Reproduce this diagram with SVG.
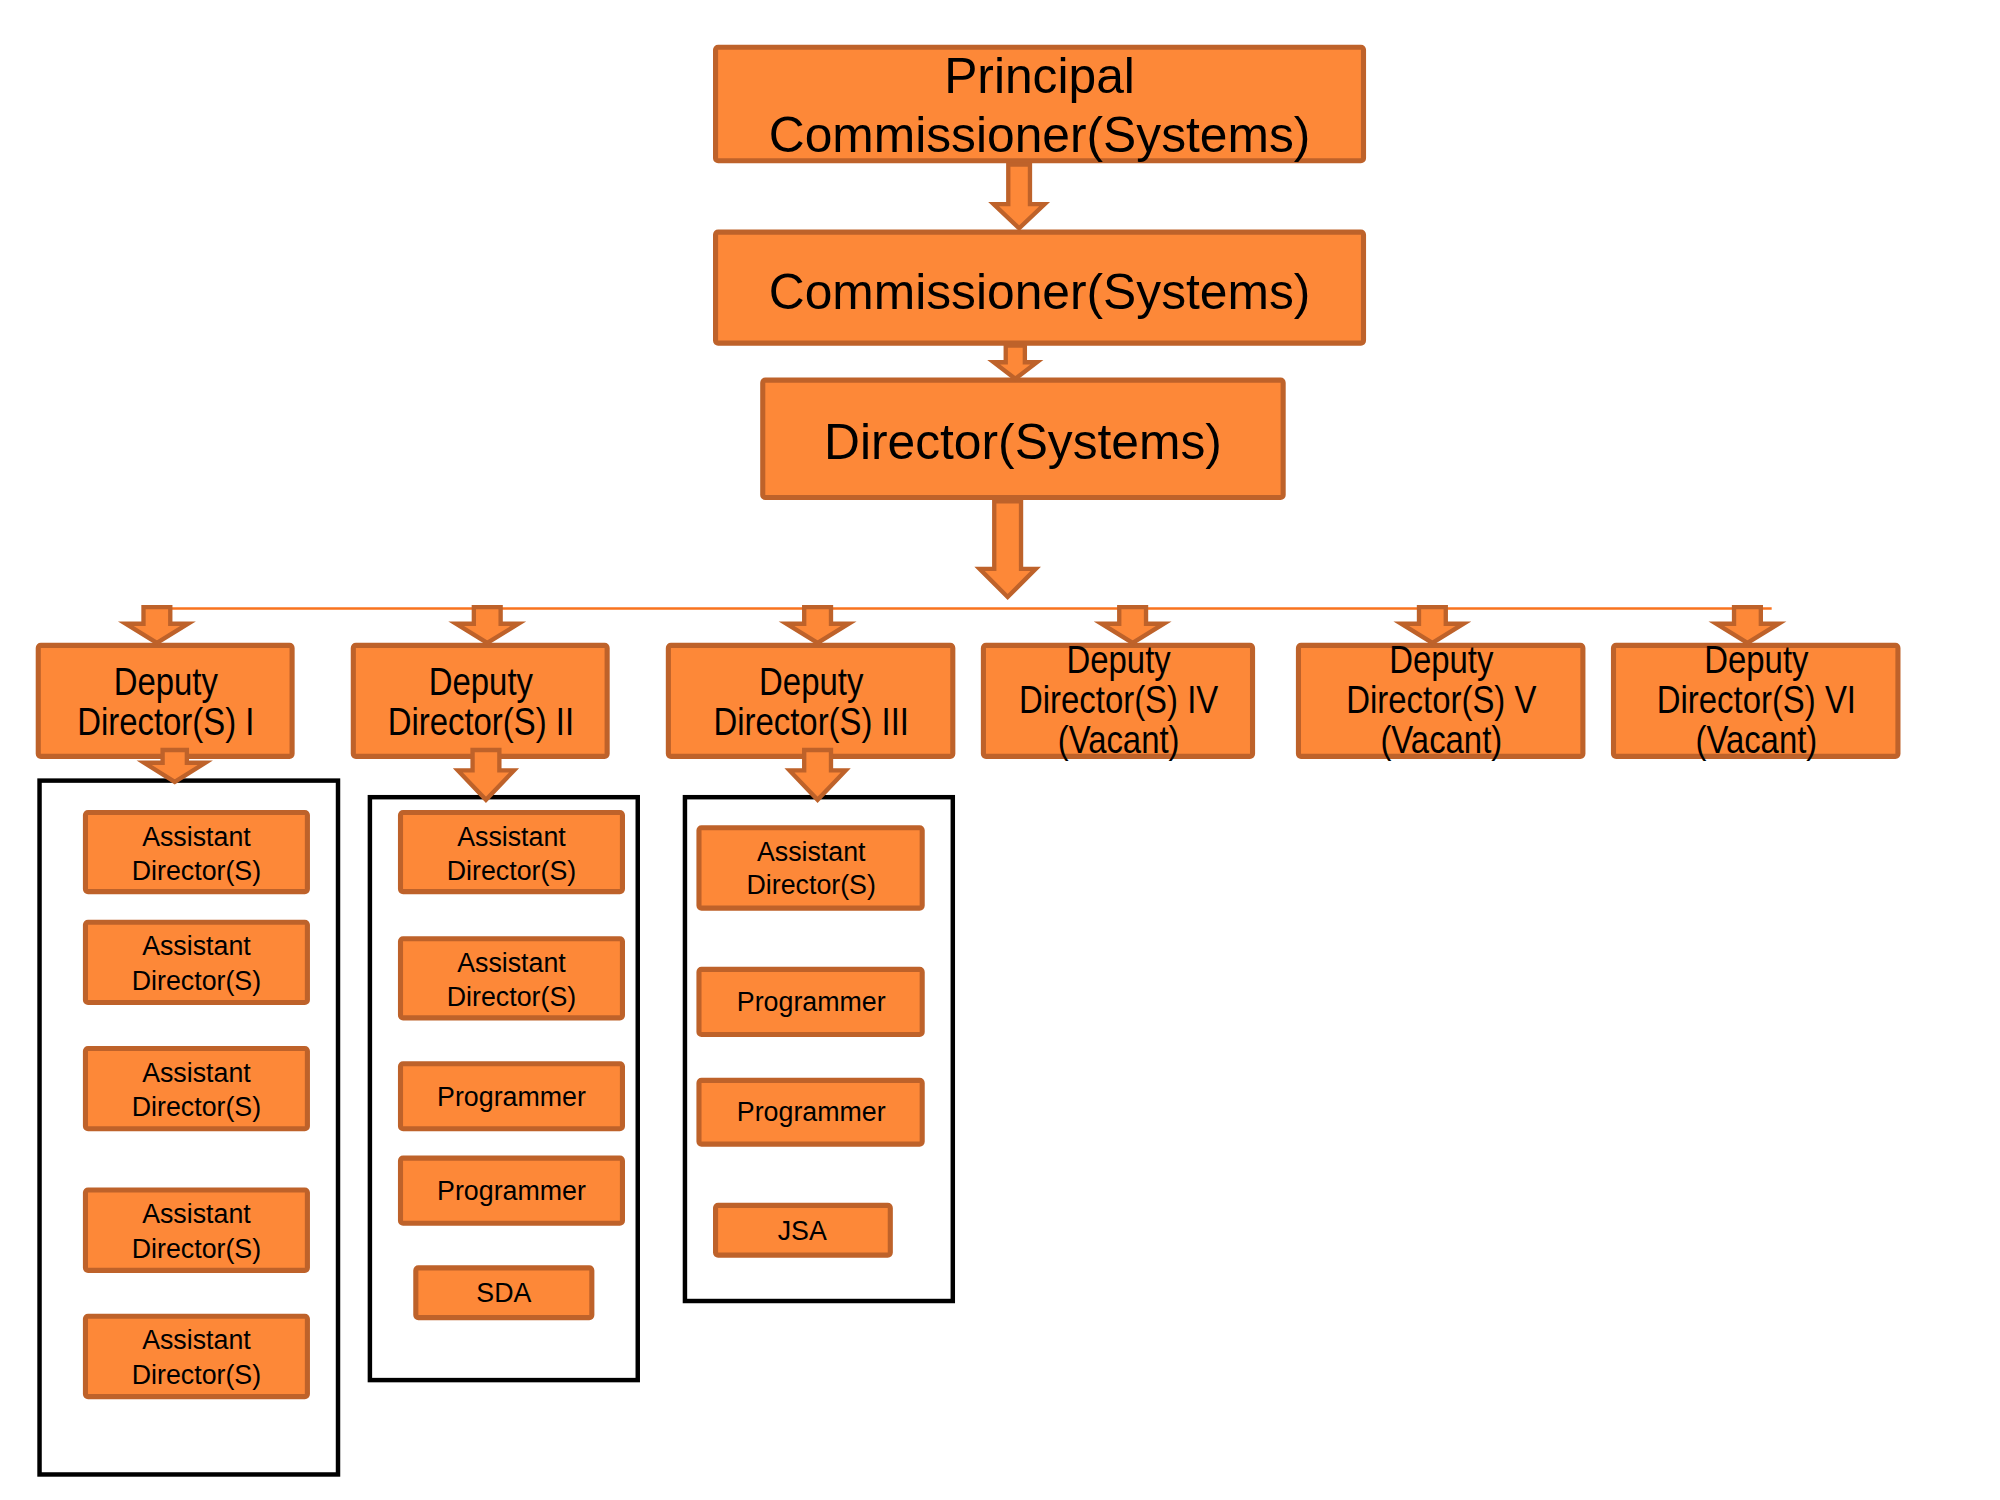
<svg xmlns="http://www.w3.org/2000/svg" width="2000" height="1500" viewBox="0 0 2000 1500">
<style>
.n{fill:#FD8838;stroke:#BE622A;stroke-width:4;}
.ar{fill:#FD8838;stroke:#BE622A;stroke-width:3.4;stroke-linejoin:miter;}
.grp{fill:none;stroke:#000;stroke-width:3.5;}
.t{font-family:"Liberation Sans",Arial,sans-serif;fill:#000;text-anchor:middle;}
.big{font-size:39px;}
.dep{font-size:30px;}
.sm{font-size:21px;}
</style>
<rect width="2000" height="1500" fill="#fff"/>
<g transform="scale(1.2755)">
<g id="groups">
<rect class="grp" x="31" y="612" width="234" height="544"/>
<rect class="grp" x="290" y="625" width="210" height="457"/>
<rect class="grp" x="537" y="625" width="210" height="395"/>
</g>
<g id="principal">
<rect class="n" x="561" y="37" width="508" height="89" rx="2"/>
<text class="t big" x="815" y="73">Principal</text>
<text class="t big" x="815" y="119">Commissioner(Systems)</text>
</g>
<g id="commissioner">
<rect class="n" x="561" y="182" width="508" height="87" rx="2"/>
<text class="t big" x="815" y="242">Commissioner(Systems)</text>
</g>
<g id="director">
<rect class="n" x="598" y="298" width="408" height="92" rx="2"/>
<text class="t big" x="802" y="360">Director(Systems)</text>
</g>
<g id="dd1">
<rect class="n" x="30" y="506" width="199" height="87" rx="2"/>
<g transform="translate(130 0) scale(0.86 1)"><text class="t dep" x="0" y="545">Deputy</text><text class="t dep" x="0" y="576">Director(S) I</text></g>
</g>
<g id="dd2">
<rect class="n" x="277" y="506" width="199" height="87" rx="2"/>
<g transform="translate(377 0) scale(0.86 1)"><text class="t dep" x="0" y="545">Deputy</text><text class="t dep" x="0" y="576">Director(S) II</text></g>
</g>
<g id="dd3">
<rect class="n" x="524" y="506" width="223" height="87" rx="2"/>
<g transform="translate(636 0) scale(0.86 1)"><text class="t dep" x="0" y="545">Deputy</text><text class="t dep" x="0" y="576">Director(S) III</text></g>
</g>
<g id="dd4">
<rect class="n" x="771" y="506" width="211" height="87" rx="2"/>
<g transform="translate(877 0) scale(0.86 1)"><text class="t dep" x="0" y="528">Deputy</text><text class="t dep" x="0" y="559">Director(S) IV</text><text class="t dep" x="0" y="590">(Vacant)</text></g>
</g>
<g id="dd5">
<rect class="n" x="1018" y="506" width="223" height="87" rx="2"/>
<g transform="translate(1130 0) scale(0.86 1)"><text class="t dep" x="0" y="528">Deputy</text><text class="t dep" x="0" y="559">Director(S) V</text><text class="t dep" x="0" y="590">(Vacant)</text></g>
</g>
<g id="dd6">
<rect class="n" x="1265" y="506" width="223" height="87" rx="2"/>
<g transform="translate(1377 0) scale(0.86 1)"><text class="t dep" x="0" y="528">Deputy</text><text class="t dep" x="0" y="559">Director(S) VI</text><text class="t dep" x="0" y="590">(Vacant)</text></g>
</g>
<g id="ad1a"><rect class="n" x="67" y="637" width="174" height="62" rx="2"/><text class="t sm" x="154" y="663">Assistant</text><text class="t sm" x="154" y="690">Director(S)</text></g>
<g id="ad1b"><rect class="n" x="67" y="723" width="174" height="63" rx="2"/><text class="t sm" x="154" y="749">Assistant</text><text class="t sm" x="154" y="776">Director(S)</text></g>
<g id="ad1c"><rect class="n" x="67" y="822" width="174" height="63" rx="2"/><text class="t sm" x="154" y="848">Assistant</text><text class="t sm" x="154" y="875">Director(S)</text></g>
<g id="ad1d"><rect class="n" x="67" y="933" width="174" height="63" rx="2"/><text class="t sm" x="154" y="959">Assistant</text><text class="t sm" x="154" y="986">Director(S)</text></g>
<g id="ad1e"><rect class="n" x="67" y="1032" width="174" height="63" rx="2"/><text class="t sm" x="154" y="1058">Assistant</text><text class="t sm" x="154" y="1085">Director(S)</text></g>
<g id="ad2a"><rect class="n" x="314" y="637" width="174" height="62" rx="2"/><text class="t sm" x="401" y="663">Assistant</text><text class="t sm" x="401" y="690">Director(S)</text></g>
<g id="ad2b"><rect class="n" x="314" y="736" width="174" height="62" rx="2"/><text class="t sm" x="401" y="762">Assistant</text><text class="t sm" x="401" y="789">Director(S)</text></g>
<g id="pr2a"><rect class="n" x="314" y="834" width="174" height="51" rx="2"/><text class="t sm" x="401" y="867">Programmer</text></g>
<g id="pr2b"><rect class="n" x="314" y="908" width="174" height="51" rx="2"/><text class="t sm" x="401" y="941">Programmer</text></g>
<g id="sda"><rect class="n" x="326" y="994" width="138" height="39" rx="2"/><text class="t sm" x="395" y="1021">SDA</text></g>
<g id="ad3a"><rect class="n" x="548" y="649" width="175" height="63" rx="2"/><text class="t sm" x="636" y="675">Assistant</text><text class="t sm" x="636" y="701">Director(S)</text></g>
<g id="pr3a"><rect class="n" x="548" y="760" width="175" height="51" rx="2"/><text class="t sm" x="636" y="793">Programmer</text></g>
<g id="pr3b"><rect class="n" x="548" y="847" width="175" height="50" rx="2"/><text class="t sm" x="636" y="879">Programmer</text></g>
<g id="jsa"><rect class="n" x="561" y="945" width="137" height="39" rx="2"/><text class="t sm" x="629" y="972">JSA</text></g>
<g id="connectors">
<line x1="123" y1="477" x2="1389" y2="477" stroke="#F9731E" stroke-width="2"/>
<path class="ar" d="M790.5 129 L807.5 129 L807.5 160 L819 160 L799 179 L779 160 L790.5 160 Z"/>
<path class="ar" d="M788.5 271 L803.5 271 L803.5 284 L813 284 L796 297 L779 284 L788.5 284 Z"/>
<path class="ar" d="M779.5 393 L800.5 393 L800.5 446 L812 446 L790 468 L768 446 L779.5 446 Z"/>
<path class="ar" d="M112.5 476 L133.5 476 L133.5 489 L147.5 489 L123 504 L98.5 489 L112.5 489 Z"/>
<path class="ar" d="M371.5 476 L392.5 476 L392.5 489 L406.5 489 L382 504 L357.5 489 L371.5 489 Z"/>
<path class="ar" d="M630.5 476 L651.5 476 L651.5 489 L665.5 489 L641 504 L616.5 489 L630.5 489 Z"/>
<path class="ar" d="M877.5 476 L898.5 476 L898.5 489 L912.5 489 L888 504 L863.5 489 L877.5 489 Z"/>
<path class="ar" d="M1112.5 476 L1133.5 476 L1133.5 489 L1147.5 489 L1123 504 L1098.5 489 L1112.5 489 Z"/>
<path class="ar" d="M1359.5 476 L1380.5 476 L1380.5 489 L1394.5 489 L1370 504 L1345.5 489 L1359.5 489 Z"/>
<path class="ar" d="M127.5 588 L146.5 588 L146.5 598 L161 598 L137 613 L113 598 L127.5 598 Z"/>
<path class="ar" d="M370.5 588 L391.5 588 L391.5 604 L403 604 L381 627 L359 604 L370.5 604 Z"/>
<path class="ar" d="M630.5 588 L651.5 588 L651.5 604 L663 604 L641 627 L619 604 L630.5 604 Z"/>
</g>
</g>
</svg>
